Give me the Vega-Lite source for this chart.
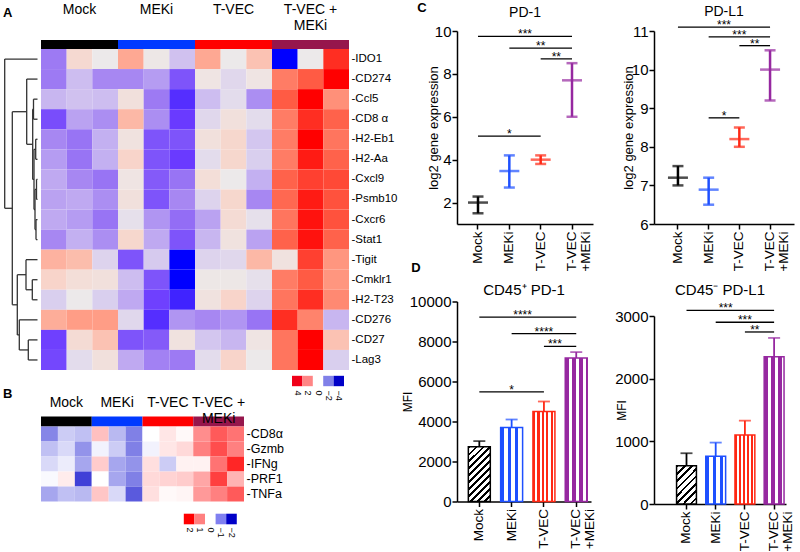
{
"$schema": "https://vega.github.io/schema/vega-lite/v6.json",
"background": "white",
"padding": {"left": 3, "top": 2, "right": 0, "bottom": 0},
"config": {
  "view": {"stroke": null},
  "font": "Liberation Sans",
  "axis": {"labelFont": "Liberation Sans", "titleFont": "Liberation Sans", "labelColor": "#000", "titleColor": "#000", "domainColor": "#000", "tickColor": "#000", "titleFontWeight": "normal", "grid": false, "labelOverlap": false, "labelFlush": false},
  "title": {"font": "Liberation Sans", "color": "#000", "fontWeight": "normal"},
  "text": {"font": "Liberation Sans", "color": "#000"}
},
"datasets": {
  "groups": [{"g":"Mock"},{"g":"MEKi"},{"g":"T-VEC"},{"g":"T-VEC + MEKi"}],
  "heatA": [
    {"gene":"IDO1","M1":-2,"M2":0.7,"M3":0,"K1":1.8,"K2":0.1,"K3":-0.9,"T1":1.8,"T2":0,"T3":1.3,"X1":-4.2,"X2":0,"X3":3.5},
    {"gene":"CD274","M1":-2,"M2":-1,"M3":-1.8,"K1":-1.8,"K2":-1.5,"K3":-2.6,"T1":0.2,"T2":-0.4,"T3":0.2,"X1":2.5,"X2":3,"X3":4},
    {"gene":"Ccl5","M1":-1.1,"M2":-0.9,"M3":-1,"K1":0.4,"K2":-2,"K3":-3.2,"T1":-1,"T2":-0.3,"T3":-1.7,"X1":3,"X2":4,"X3":2.2},
    {"gene":"CD8 α","M1":-2.7,"M2":-1.4,"M3":-1.7,"K1":1.5,"K2":-1.7,"K3":-3,"T1":-0.4,"T2":0.4,"T3":-0.3,"X1":2.5,"X2":3.5,"X3":2.9},
    {"gene":"H2-Eb1","M1":-1.8,"M2":-2.1,"M3":-1.2,"K1":0.3,"K2":-2.6,"K3":-2.6,"T1":0.4,"T2":0.8,"T3":-0.8,"X1":2.5,"X2":4,"X3":2.6},
    {"gene":"H2-Aa","M1":-1.5,"M2":-2.1,"M3":-1.2,"K1":0.9,"K2":-2.6,"K3":-3,"T1":-0.3,"T2":0.8,"T3":-0.6,"X1":2.5,"X2":3.7,"X3":2.9},
    {"gene":"Cxcl9","M1":-1.3,"M2":-1.8,"M3":-2.1,"K1":0.2,"K2":-2.5,"K3":-2.1,"T1":0.5,"T2":0,"T3":-1.2,"X1":2.9,"X2":3.3,"X3":3.2},
    {"gene":"Psmb10","M1":-1.4,"M2":-1.3,"M3":-1.7,"K1":0.4,"K2":-2.6,"K3":-1.8,"T1":-0.5,"T2":0.8,"T3":-1.8,"X1":2.8,"X2":3.7,"X3":3.1},
    {"gene":"Cxcr6","M1":-1.3,"M2":-1.5,"M3":-2.1,"K1":-0.2,"K2":-1.6,"K3":-2.2,"T1":-1.4,"T2":0.6,"T3":-0.2,"X1":2.6,"X2":3.8,"X3":3.1},
    {"gene":"Stat1","M1":-1.8,"M2":-1.2,"M3":-1.7,"K1":0.8,"K2":-1.3,"K3":-2.6,"T1":-1.1,"T2":0.3,"T3":-1.4,"X1":2.9,"X2":3.8,"X3":2.9},
    {"gene":"Tigit","M1":1.6,"M2":1.4,"M3":-0.5,"K1":-2.6,"K2":-0.7,"K3":-4.2,"T1":-0.5,"T2":-0.4,"T3":1.5,"X1":0.3,"X2":3.3,"X3":2.1},
    {"gene":"Cmklr1","M1":0.9,"M2":0.5,"M3":0.4,"K1":-1,"K2":-2.6,"K3":-4.2,"T1":0.1,"T2":0.1,"T3":-0.2,"X1":2.5,"X2":3,"X3":2.1},
    {"gene":"H2-T23","M1":-0.6,"M2":0,"M3":-0.6,"K1":-1.3,"K2":-2.9,"K3":-3.4,"T1":0.3,"T2":0.9,"T3":-0.5,"X1":2.6,"X2":3.5,"X3":2.3},
    {"gene":"CD276","M1":1.7,"M2":2,"M3":2,"K1":-0.4,"K2":-3.2,"K3":-1.6,"T1":-1.8,"T2":-1.6,"T3":-2.1,"X1":3.5,"X2":2.4,"X3":-1.1},
    {"gene":"CD27","M1":-2.9,"M2":0.6,"M3":1.3,"K1":-2.6,"K2":-2.5,"K3":0.3,"T1":-0.8,"T2":-1.1,"T3":0.2,"X1":2.6,"X2":4.2,"X3":1.3},
    {"gene":"Lag3","M1":-2.8,"M2":-0.3,"M3":0.4,"K1":-1.3,"K2":-1.9,"K3":-2,"T1":-0.3,"T2":0.9,"T3":0,"X1":2.6,"X2":4.2,"X3":-0.6}
  ],
  "heatB": [
    {"gene":"CD8α","M1":-0.95,"M2":-0.4,"M3":-0.5,"K1":0.5,"K2":-0.55,"K3":-1,"T1":0,"T2":0.2,"T3":0.05,"X1":0.9,"X2":1.3,"X3":1.1},
    {"gene":"Gzmb","M1":-0.5,"M2":-0.3,"M3":-0.85,"K1":-0.1,"K2":-0.4,"K3":-1,"T1":-0.1,"T2":0.2,"T3":0.3,"X1":1,"X2":1.4,"X3":1},
    {"gene":"IFNg","M1":-0.3,"M2":-0.15,"M3":-0.7,"K1":0.4,"K2":-0.7,"K3":-0.85,"T1":0.25,"T2":-0.4,"T3":0.1,"X1":0.1,"X2":1.1,"X3":1.7},
    {"gene":"PRF1","M1":-0.05,"M2":0.15,"M3":-1.5,"K1":0,"K2":-0.7,"K3":-1,"T1":0.3,"T2":0.35,"T3":0.4,"X1":0.7,"X2":1.5,"X3":0.6},
    {"gene":"TNFa","M1":-0.7,"M2":-0.5,"M3":-0.55,"K1":0.45,"K2":-0.3,"K3":-1.3,"T1":0.25,"T2":0.05,"T3":0.08,"X1":0.8,"X2":1,"X3":1.3}
  ],
  "dendro": [
    {"h1":36.3,"h2":36.3,"r1":0.5,"r2":7.94},{"h1":36.3,"h2":3.5,"r1":0.5,"r2":0.5},{"h1":36.3,"h2":28.7,"r1":7.94,"r2":7.94},
    {"h1":28.7,"h2":28.7,"r1":3.125,"r2":12.75},{"h1":28.7,"h2":14.3,"r1":3.125,"r2":3.125},{"h1":28.7,"h2":23.7,"r1":12.75,"r2":12.75},
    {"h1":14.3,"h2":14.3,"r1":1.5,"r2":4.75},{"h1":14.3,"h2":3.5,"r1":1.5,"r2":1.5},{"h1":14.3,"h2":8.3,"r1":4.75,"r2":4.75},
    {"h1":8.3,"h2":8.3,"r1":3,"r2":6.5},{"h1":8.3,"h2":7.5,"r1":3,"r2":3},{"h1":8.3,"h2":7,"r1":6.5,"r2":6.5},
    {"h1":7.5,"h2":7.5,"r1":2.5,"r2":3.5},{"h1":7.5,"h2":3.5,"r1":2.5,"r2":2.5},{"h1":7.5,"h2":3.5,"r1":3.5,"r2":3.5},
    {"h1":7,"h2":7,"r1":5,"r2":8},{"h1":7,"h2":5.3,"r1":5,"r2":5},{"h1":7,"h2":6,"r1":8,"r2":8},
    {"h1":5.3,"h2":5.3,"r1":4.5,"r2":5.5},{"h1":5.3,"h2":3.5,"r1":4.5,"r2":4.5},{"h1":5.3,"h2":3.5,"r1":5.5,"r2":5.5},
    {"h1":6,"h2":6,"r1":7,"r2":9},{"h1":6,"h2":4.5,"r1":7,"r2":7},{"h1":6,"h2":5,"r1":9,"r2":9},
    {"h1":4.5,"h2":4.5,"r1":6.5,"r2":7.5},{"h1":4.5,"h2":3.5,"r1":6.5,"r2":6.5},{"h1":4.5,"h2":3.5,"r1":7.5,"r2":7.5},
    {"h1":5,"h2":5,"r1":8.5,"r2":9.5},{"h1":5,"h2":3.5,"r1":8.5,"r2":8.5},{"h1":5,"h2":3.5,"r1":9.5,"r2":9.5},
    {"h1":23.7,"h2":23.7,"r1":11.25,"r2":14.25},{"h1":23.7,"h2":15,"r1":11.25,"r2":11.25},{"h1":23.7,"h2":21.7,"r1":14.25,"r2":14.25},
    {"h1":15,"h2":15,"r1":10.5,"r2":12},{"h1":15,"h2":3.5,"r1":10.5,"r2":10.5},{"h1":15,"h2":8.7,"r1":12,"r2":12},
    {"h1":8.7,"h2":8.7,"r1":11.5,"r2":12.5},{"h1":8.7,"h2":3.5,"r1":11.5,"r2":11.5},{"h1":8.7,"h2":3.5,"r1":12.5,"r2":12.5},
    {"h1":21.7,"h2":21.7,"r1":13.5,"r2":15},{"h1":21.7,"h2":3.5,"r1":13.5,"r2":13.5},{"h1":21.7,"h2":12.7,"r1":15,"r2":15},
    {"h1":12.7,"h2":12.7,"r1":14.5,"r2":15.5},{"h1":12.7,"h2":3.5,"r1":14.5,"r2":14.5},{"h1":12.7,"h2":3.5,"r1":15.5,"r2":15.5}
  ],
  "legA": [{"v":4},{"v":2},{"v":-2},{"v":-4}],
  "legB": [{"v":2},{"v":1},{"v":-1},{"v":-2}],
  "pd1": [{"g":"Mock","mean":2.0,"lo":1.5,"hi":2.28},{"g":"MEKi","mean":3.47,"lo":2.7,"hi":4.2},{"g":"T-VEC","mean":4.0,"lo":3.8,"hi":4.2},{"g":"T-VEC + MEKi","mean":7.7,"lo":6.0,"hi":8.5}],
  "pdl1": [{"g":"Mock","mean":7.2,"lo":7.0,"hi":7.5},{"g":"MEKi","mean":6.89,"lo":6.5,"hi":7.2},{"g":"T-VEC","mean":8.2,"lo":8.0,"hi":8.5},{"g":"T-VEC + MEKi","mean":10.0,"lo":9.2,"hi":10.5}],
  "sig_pd1": [{"g1":"Mock","g2":"T-VEC + MEKi","y":9.75,"s":"***","at":"MEKi","p":"e"},{"g1":"MEKi","g2":"T-VEC + MEKi","y":9.2,"s":"**","at":"T-VEC","p":"c"},{"g1":"T-VEC","g2":"T-VEC + MEKi","y":8.7,"s":"**","at":"T-VEC","p":"e"},{"g1":"Mock","g2":"T-VEC","y":5.1,"s":"*","at":"MEKi","p":"c"}],
  "sig_pdl1": [{"g1":"Mock","g2":"T-VEC + MEKi","y":11.1,"s":"***","at":"MEKi","p":"e"},{"g1":"MEKi","g2":"T-VEC + MEKi","y":10.85,"s":"***","at":"T-VEC","p":"c"},{"g1":"T-VEC","g2":"T-VEC + MEKi","y":10.62,"s":"**","at":"T-VEC","p":"e"},{"g1":"MEKi","g2":"T-VEC","y":8.75,"s":"*","at":"MEKi","p":"e"}],
  "cd45p": [{"g":"Mock","mean":2740,"hi":3020},{"g":"MEKi","mean":3700,"hi":4100},{"g":"T-VEC","mean":4500,"hi":5000},{"g":"T-VEC + MEKi","mean":7170,"hi":7470}],
  "sig_cd45p": [{"g1":"Mock","g2":"T-VEC + MEKi","y":9220,"s":"****","at":"MEKi","p":"e"},{"g1":"MEKi","g2":"T-VEC + MEKi","y":8390,"s":"****","at":"T-VEC","p":"c"},{"g1":"T-VEC","g2":"T-VEC + MEKi","y":7760,"s":"***","at":"T-VEC","p":"e"},{"g1":"Mock","g2":"T-VEC","y":5480,"s":"*","at":"MEKi","p":"c"}],
  "cd45n": [{"g":"Mock","mean":610,"hi":810},{"g":"MEKi","mean":760,"hi":980},{"g":"T-VEC","mean":1100,"hi":1330},{"g":"T-VEC + MEKi","mean":2350,"hi":2650}],
  "sig_cd45n": [{"g1":"Mock","g2":"T-VEC + MEKi","y":3090,"s":"***","at":"MEKi","p":"e"},{"g1":"MEKi","g2":"T-VEC + MEKi","y":2900,"s":"***","at":"T-VEC","p":"c"},{"g1":"T-VEC","g2":"T-VEC + MEKi","y":2745,"s":"**","at":"T-VEC","p":"e"}]
},
"spacing": 3,
"hconcat": [
 {"vconcat": [
  {"concat": [
    {"width": 38, "height": 18, "data": {"values": []}, "mark": "rect",
     "title": {"text": "A", "anchor": "start", "offset": 11, "fontSize": 13, "fontWeight": "bold"}},
    {"width": 308, "height": 18, "data": {"name": "groups"}, "mark": "rect",
     "encoding": {
       "x": {"field": "g", "type": "nominal", "scale": {"type": "band", "domain": ["Mock","MEKi","T-VEC","T-VEC + MEKi"], "paddingInner": 0, "paddingOuter": 0},
             "axis": {"orient": "top", "title": null, "domain": false, "ticks": false, "tickSize": 0, "labelAngle": 0, "labelFontSize": 14, "labelLineHeight": 16, "labelBaseline": "top", "labelPadding": 29, "labelAlign": "center", "labelOverlap": false, "labelExpr": "datum.value == 'T-VEC + MEKi' ? ['T-VEC +', 'MEKi'] : datum.value"}},
       "y": {"datum": "bar", "type": "nominal", "scale": {"type": "band", "paddingInner": 0, "paddingOuter": 0.5, "align": 1}, "axis": null},
       "color": {"field": "g", "type": "nominal", "scale": {"domain": ["Mock","MEKi","T-VEC","T-VEC + MEKi"], "range": ["#000000","#0039ff","#ff0000","#96164c"]}, "legend": null}
     }},
    {"width": 38, "height": 321, "data": {"name": "dendro"}, "mark": {"type": "rule", "strokeWidth": 1.3, "color": "#333"},
     "encoding": {
       "x": {"field": "h1", "type": "quantitative", "scale": {"domain": [0, 38], "reverse": true, "nice": false, "zero": false}, "axis": null},
       "x2": {"field": "h2"},
       "y": {"field": "r1", "type": "quantitative", "scale": {"domain": [0, 16], "reverse": true, "nice": false, "zero": false}, "axis": null},
       "y2": {"field": "r2"}
     }},
    {"width": 308, "height": 321, "data": {"name": "heatA"},
     "transform": [{"fold": ["M1","M2","M3","K1","K2","K3","T1","T2","T3","X1","X2","X3"], "as": ["sample", "z"]}],
     "mark": "rect",
     "encoding": {
       "x": {"field": "sample", "type": "nominal", "sort": ["M1","M2","M3","K1","K2","K3","T1","T2","T3","X1","X2","X3"], "scale": {"paddingInner": 0, "paddingOuter": 0}, "axis": null},
       "y": {"field": "gene", "type": "nominal", "sort": ["IDO1","CD274","Ccl5","CD8 α","H2-Eb1","H2-Aa","Cxcl9","Psmb10","Cxcr6","Stat1","Tigit","Cmklr1","H2-T23","CD276","CD27","Lag3"], "scale": {"paddingInner": 0, "paddingOuter": 0},
             "axis": {"orient": "right", "title": null, "domain": false, "ticks": false, "labelPadding": 2, "labelFontSize": 11.5, "labelExpr": "'-' + datum.value"}},
       "color": {"field": "z", "type": "quantitative", "scale": {"domain": [-4,-3,-2,-1,0,1,2,3,4], "range": ["#0000ff","#6a3aff","#9d7af3","#cdbdf0","#ece9ea","#f9d2c6","#ff9d86","#ff5b44","#ff0000"], "interpolate": "rgb", "clamp": true}, "legend": null}
     }},
    {"width": 38, "height": 22, "data": {"values": []}, "mark": "rect"},
    {"width": 308, "height": 22, "data": {"name": "legA"}, "mark": {"type": "square", "size": 108, "opacity": 1, "filled": true},
     "encoding": {
       "x": {"field": "v", "type": "quantitative", "scale": {"domain": [-5.96, 53.27], "reverse": true, "nice": false, "zero": false},
             "axis": {"orient": "bottom", "title": null, "domain": false, "ticks": false, "values": [4,2,0,-2,-4], "tickCount": 20, "format": "d", "labelAngle": 90, "labelFontSize": 9, "labelPadding": -2, "labelFlush": false, "labelOverlap": false}},
       "color": {"field": "v", "type": "nominal", "scale": {"domain": [4,2,-2,-4], "range": ["#f00018","#ff8585","#8080e8","#0000c8"]}, "legend": null}
     }}
  ], "columns": 2, "spacing": 0, "align": "each"},
  {"concat": [
    {"width": 38, "height": 10, "data": {"values": []}, "mark": "rect",
     "title": {"text": "B", "anchor": "start", "offset": 16, "fontSize": 13, "fontWeight": "bold"}},
    {"width": 203, "height": 10, "data": {"name": "groups"}, "mark": "rect",
     "encoding": {
       "x": {"field": "g", "type": "nominal", "scale": {"type": "band", "domain": ["Mock","MEKi","T-VEC","T-VEC + MEKi"], "paddingInner": 0, "paddingOuter": 0},
             "axis": {"orient": "top", "title": null, "domain": false, "ticks": false, "tickSize": 0, "labelAngle": 0, "labelFontSize": 14, "labelLineHeight": 16, "labelBaseline": "middle", "labelPadding": 14.5, "labelAlign": "center", "labelOverlap": false, "labelExpr": "datum.value == 'T-VEC + MEKi' ? ['T-VEC +', 'MEKi'] : datum.value"}},
       "color": {"field": "g", "type": "nominal", "scale": {"domain": ["Mock","MEKi","T-VEC","T-VEC + MEKi"], "range": ["#000000","#0039ff","#ff0000","#96164c"]}, "legend": null}
     }},
    {"width": 38, "height": 75, "data": {"values": []}, "mark": "rect"},
    {"width": 203, "height": 75, "data": {"name": "heatB"},
     "transform": [{"fold": ["M1","M2","M3","K1","K2","K3","T1","T2","T3","X1","X2","X3"], "as": ["sample", "z"]}],
     "mark": "rect",
     "encoding": {
       "x": {"field": "sample", "type": "nominal", "sort": ["M1","M2","M3","K1","K2","K3","T1","T2","T3","X1","X2","X3"], "scale": {"paddingInner": 0, "paddingOuter": 0}, "axis": null},
       "y": {"field": "gene", "type": "nominal", "sort": ["CD8α","Gzmb","IFNg","PRF1","TNFa"], "scale": {"paddingInner": 0, "paddingOuter": 0},
             "axis": {"orient": "right", "title": null, "domain": false, "ticks": false, "labelPadding": 2, "labelFontSize": 12.5, "labelExpr": "'-' + datum.value"}},
       "color": {"field": "z", "type": "quantitative", "scale": {"domain": [-2,-1,0,1,2], "range": ["#0000c8","#8080e6","#ffffff","#ff8080","#ff0000"], "interpolate": "rgb", "clamp": true}, "legend": null}
     }},
    {"width": 38, "height": 35, "data": {"values": []}, "mark": "rect"},
    {"width": 203, "height": 35, "data": {"name": "legB"}, "mark": {"type": "square", "size": 112, "opacity": 1, "filled": true},
     "encoding": {
       "x": {"field": "v", "type": "quantitative", "scale": {"domain": [-3.18, 15.97], "reverse": true, "nice": false, "zero": false},
             "axis": {"orient": "bottom", "title": null, "domain": false, "ticks": false, "values": [2,1,0,-1,-2], "tickCount": 20, "format": "d", "labelAngle": 90, "labelFontSize": 9, "labelPadding": -9.5, "labelFlush": false, "labelOverlap": false}},
       "color": {"field": "v", "type": "nominal", "scale": {"domain": [2,1,-1,-2], "range": ["#ff0000","#ff8080","#8080f0","#0000c8"]}, "legend": null}
     }}
  ], "columns": 2, "spacing": 0, "align": "each"}
 ], "spacing": -13.5},
 {"hconcat": [
  {"vconcat": [
   {"vconcat": [
    {"width": 136, "height": 193,
     "title": {"text": "PD-1", "frame": "group", "anchor": "middle", "fontSize": 14, "offset": 4},
     "data": {"name": "pd1"},
     "layer": [
      {"mark": {"type": "rule", "strokeWidth": 2.5},
       "encoding": {
         "x": {"field": "g", "type": "nominal", "scale": {"type": "band", "domain": ["Mock","MEKi","T-VEC","T-VEC + MEKi"], "paddingInner": 0, "paddingOuter": 0.17},
               "axis": {"orient": "bottom", "title": null, "labelAngle": 270, "labelFontSize": 13.5, "labelLineHeight": 14, "labelExpr": "datum.value == 'T-VEC + MEKi' ? ['T-VEC', '+MEKi'] : datum.value", "tickSize": 5, "tickWidth": 1.5, "domainWidth": 1.5, "labelPadding": 2, "labelOverlap": false}},
         "y": {"field": "lo", "type": "quantitative", "scale": {"domain": [1, 10], "nice": false, "zero": false},
               "axis": {"title": "log2 gene expression", "titleFontSize": 13, "titlePadding": -6, "values": [2,4,6,8,10], "tickCount": 20, "format": "d", "labelFontSize": 15, "tickSize": 5, "tickWidth": 1.5, "domainWidth": 1.5, "labelPadding": 1, "labelOverlap": false, "labelFlush": false}},
         "y2": {"field": "hi"},
         "color": {"field": "g", "type": "nominal", "scale": {"domain": ["Mock","MEKi","T-VEC","T-VEC + MEKi"], "range": ["#000000","#1e50ff","#ff2814","#9628a0"]}, "legend": null}
       }},
      {"mark": {"type": "tick", "size": 20, "thickness": 2.5},
       "encoding": {"x": {"field": "g", "type": "nominal"}, "y": {"field": "mean", "type": "quantitative"}, "color": {"field": "g", "type": "nominal", "legend": null}}},
      {"mark": {"type": "tick", "size": 11, "thickness": 2.5},
       "encoding": {"x": {"field": "g", "type": "nominal"}, "y": {"field": "lo", "type": "quantitative"}, "color": {"field": "g", "type": "nominal", "legend": null}}},
      {"mark": {"type": "tick", "size": 11, "thickness": 2.5},
       "encoding": {"x": {"field": "g", "type": "nominal"}, "y": {"field": "hi", "type": "quantitative"}, "color": {"field": "g", "type": "nominal", "legend": null}}},
      {"data": {"name": "sig_pd1"}, "mark": {"type": "rule", "strokeWidth": 1.3, "color": "#000"},
       "encoding": {"x": {"field": "g1", "type": "nominal"}, "x2": {"field": "g2"}, "y": {"field": "y", "type": "quantitative"}}},
      {"data": {"name": "sig_pd1"}, "transform": [{"filter": "datum.p == 'c'"}], "mark": {"type": "text", "fontSize": 12, "baseline": "alphabetic", "dy": 2},
       "encoding": {"x": {"field": "at", "type": "nominal"}, "y": {"field": "y", "type": "quantitative"}, "text": {"field": "s"}}},
      {"data": {"name": "sig_pd1"}, "transform": [{"filter": "datum.p == 'e'"}], "mark": {"type": "text", "fontSize": 12, "baseline": "alphabetic", "dy": 2},
       "encoding": {"x": {"field": "at", "type": "nominal", "bandPosition": 1}, "y": {"field": "y", "type": "quantitative"}, "text": {"field": "s"}}}
     ]}
   ], "bounds": "flush", "title": {"text": "C", "anchor": "start", "frame": "bounds", "dx": -10, "offset": -9, "fontSize": 13, "fontWeight": "bold"}},
   {"vconcat": [
    {"width": 134, "height": 200,
     "title": {"text": "CD45⁺ PD-1", "frame": "group", "anchor": "middle", "fontSize": 15, "offset": -3.5},
     "data": {"name": "cd45p"},
     "layer": [
      {"transform": [{"filter": "datum.g == 'Mock'"}],
       "mark": {"type": "bar", "stroke": "#000", "strokeWidth": 1.5, "fill": {"gradient": "linear", "x1": 0, "y1": 0, "x2": 0.483, "y2": 1.207, "stops": [
         {"offset":0,"color":"#000"},{"offset":0.0318,"color":"#000"},{"offset":0.0318,"color":"#fff"},{"offset":0.0909,"color":"#fff"},
         {"offset":0.0909,"color":"#000"},{"offset":0.1227,"color":"#000"},{"offset":0.1227,"color":"#fff"},{"offset":0.1818,"color":"#fff"},
         {"offset":0.1818,"color":"#000"},{"offset":0.2136,"color":"#000"},{"offset":0.2136,"color":"#fff"},{"offset":0.2727,"color":"#fff"},
         {"offset":0.2727,"color":"#000"},{"offset":0.3045,"color":"#000"},{"offset":0.3045,"color":"#fff"},{"offset":0.3636,"color":"#fff"},
         {"offset":0.3636,"color":"#000"},{"offset":0.3954,"color":"#000"},{"offset":0.3954,"color":"#fff"},{"offset":0.4545,"color":"#fff"},
         {"offset":0.4545,"color":"#000"},{"offset":0.4863,"color":"#000"},{"offset":0.4863,"color":"#fff"},{"offset":0.5455,"color":"#fff"},
         {"offset":0.5455,"color":"#000"},{"offset":0.5773,"color":"#000"},{"offset":0.5773,"color":"#fff"},{"offset":0.6364,"color":"#fff"},
         {"offset":0.6364,"color":"#000"},{"offset":0.6682,"color":"#000"},{"offset":0.6682,"color":"#fff"},{"offset":0.7273,"color":"#fff"},
         {"offset":0.7273,"color":"#000"},{"offset":0.7591,"color":"#000"},{"offset":0.7591,"color":"#fff"},{"offset":0.8182,"color":"#fff"},
         {"offset":0.8182,"color":"#000"},{"offset":0.85,"color":"#000"},{"offset":0.85,"color":"#fff"},{"offset":0.9091,"color":"#fff"},
         {"offset":0.9091,"color":"#000"},{"offset":0.9409,"color":"#000"},{"offset":0.9409,"color":"#fff"},{"offset":1,"color":"#fff"}]}},
       "encoding": {
         "x": {"field": "g", "type": "nominal", "scale": {"type": "band", "domain": ["Mock","MEKi","T-VEC","T-VEC + MEKi"], "paddingInner": 0.32, "paddingOuter": 0.234, "align": 0.75},
               "axis": {"orient": "bottom", "title": null, "labelAngle": 270, "labelFontSize": 13.5, "labelLineHeight": 14, "labelExpr": "datum.value == 'T-VEC + MEKi' ? ['T-VEC', '+MEKi'] : datum.value", "tickSize": 5, "tickWidth": 1.5, "domainWidth": 1.5, "labelPadding": 2, "labelOverlap": false}},
         "y": {"field": "mean", "type": "quantitative", "scale": {"domain": [0, 10000], "nice": false},
               "axis": {"title": "MFI", "titleFontSize": 12, "titlePadding": -5, "values": [0,2000,4000,6000,8000,10000], "tickCount": 20, "format": "d", "labelFontSize": 15, "tickSize": 5, "tickWidth": 1.5, "domainWidth": 1.5, "labelPadding": 1, "labelOverlap": false, "labelFlush": false}}
       }},
      {"transform": [{"filter": "datum.g == 'MEKi'"}],
       "mark": {"type": "bar", "stroke": "#1e50ff", "strokeWidth": 1.5, "fill": {"gradient": "linear", "x1": 0, "y1": 0, "x2": 1, "y2": 0, "stops": [
         {"offset":0,"color":"#1e50ff"},{"offset":0.159,"color":"#1e50ff"},{"offset":0.159,"color":"#fff"},{"offset":0.318,"color":"#fff"},{"offset":0.318,"color":"#1e50ff"},{"offset":0.477,"color":"#1e50ff"},{"offset":0.477,"color":"#fff"},{"offset":0.636,"color":"#fff"},{"offset":0.636,"color":"#1e50ff"},{"offset":0.795,"color":"#1e50ff"},{"offset":0.795,"color":"#fff"},{"offset":0.954,"color":"#fff"},{"offset":0.954,"color":"#1e50ff"},{"offset":1,"color":"#1e50ff"}]}},
       "encoding": {"x": {"field": "g", "type": "nominal"}, "y": {"field": "mean", "type": "quantitative"}}},
      {"transform": [{"filter": "datum.g == 'T-VEC'"}],
       "mark": {"type": "bar", "stroke": "#ff2814", "strokeWidth": 1.5, "fill": {"gradient": "linear", "x1": 0, "y1": 0, "x2": 1, "y2": 0, "stops": [
         {"offset":0,"color":"#ff2814"},{"offset":0.1,"color":"#ff2814"},{"offset":0.1,"color":"#fff"},{"offset":0.2,"color":"#fff"},{"offset":0.2,"color":"#ff2814"},{"offset":0.3,"color":"#ff2814"},{"offset":0.3,"color":"#fff"},{"offset":0.4,"color":"#fff"},{"offset":0.4,"color":"#ff2814"},{"offset":0.5,"color":"#ff2814"},{"offset":0.5,"color":"#fff"},{"offset":0.6,"color":"#fff"},{"offset":0.6,"color":"#ff2814"},{"offset":0.7,"color":"#ff2814"},{"offset":0.7,"color":"#fff"},{"offset":0.8,"color":"#fff"},{"offset":0.8,"color":"#ff2814"},{"offset":0.9,"color":"#ff2814"},{"offset":0.9,"color":"#fff"},{"offset":1,"color":"#fff"}]}},
       "encoding": {"x": {"field": "g", "type": "nominal"}, "y": {"field": "mean", "type": "quantitative"}}},
      {"transform": [{"filter": "datum.g == 'T-VEC + MEKi'"}],
       "mark": {"type": "bar", "stroke": "#9628a0", "strokeWidth": 1.5, "fill": {"gradient": "linear", "x1": 0, "y1": 0, "x2": 1, "y2": 0, "stops": [
         {"offset":0,"color":"#9628a0"},{"offset":0.159,"color":"#9628a0"},{"offset":0.159,"color":"#fff"},{"offset":0.318,"color":"#fff"},{"offset":0.318,"color":"#9628a0"},{"offset":0.477,"color":"#9628a0"},{"offset":0.477,"color":"#fff"},{"offset":0.636,"color":"#fff"},{"offset":0.636,"color":"#9628a0"},{"offset":0.795,"color":"#9628a0"},{"offset":0.795,"color":"#fff"},{"offset":0.954,"color":"#fff"},{"offset":0.954,"color":"#9628a0"},{"offset":1,"color":"#9628a0"}]}},
       "encoding": {"x": {"field": "g", "type": "nominal"}, "y": {"field": "mean", "type": "quantitative"}}},
      {"mark": {"type": "rule", "strokeWidth": 1.8},
       "encoding": {"x": {"field": "g", "type": "nominal"}, "y": {"field": "mean", "type": "quantitative"}, "y2": {"field": "hi"},
                    "color": {"field": "g", "type": "nominal", "scale": {"domain": ["Mock","MEKi","T-VEC","T-VEC + MEKi"], "range": ["#000000","#1e50ff","#ff2814","#9628a0"]}, "legend": null}}},
      {"mark": {"type": "tick", "size": 12, "thickness": 1.8},
       "encoding": {"x": {"field": "g", "type": "nominal"}, "y": {"field": "hi", "type": "quantitative"}, "color": {"field": "g", "type": "nominal", "legend": null}}},
      {"data": {"name": "sig_cd45p"}, "mark": {"type": "rule", "strokeWidth": 1.3, "color": "#000"},
       "encoding": {"x": {"field": "g1", "type": "nominal"}, "x2": {"field": "g2"}, "y": {"field": "y", "type": "quantitative"}}},
      {"data": {"name": "sig_cd45p"}, "transform": [{"filter": "datum.p == 'c'"}], "mark": {"type": "text", "fontSize": 12, "baseline": "alphabetic", "dy": 2},
       "encoding": {"x": {"field": "at", "type": "nominal"}, "y": {"field": "y", "type": "quantitative"}, "text": {"field": "s"}}},
      {"data": {"name": "sig_cd45p"}, "transform": [{"filter": "datum.p == 'e'"}], "mark": {"type": "text", "fontSize": 12, "baseline": "alphabetic", "dy": 2},
       "encoding": {"x": {"field": "at", "type": "nominal", "bandPosition": 1}, "y": {"field": "y", "type": "quantitative"}, "text": {"field": "s"}}}
     ]}
   ], "bounds": "flush", "title": {"text": "D", "anchor": "start", "frame": "bounds", "dx": 10, "offset": 8, "fontSize": 13, "fontWeight": "bold"}}
  ], "spacing": -10.5},
  {"concat": [
   {"width": 140, "height": 193,
    "title": {"text": "PD-L1", "frame": "group", "anchor": "middle", "fontSize": 14, "offset": 0},
    "data": {"name": "pdl1"},
    "layer": [
     {"mark": {"type": "rule", "strokeWidth": 2.5},
      "encoding": {
        "x": {"field": "g", "type": "nominal", "scale": {"type": "band", "domain": ["Mock","MEKi","T-VEC","T-VEC + MEKi"], "paddingInner": 0, "paddingOuter": 0.28},
              "axis": {"orient": "bottom", "title": null, "labelAngle": 270, "labelFontSize": 13.5, "labelLineHeight": 14, "labelExpr": "datum.value == 'T-VEC + MEKi' ? ['T-VEC', '+MEKi'] : datum.value", "tickSize": 5, "tickWidth": 1.5, "domainWidth": 1.5, "labelPadding": 2, "labelOverlap": false}},
        "y": {"field": "lo", "type": "quantitative", "scale": {"domain": [6, 11], "nice": false, "zero": false},
              "axis": {"title": "log2 gene expression", "titleFontSize": 13, "titlePadding": -4, "values": [6,7,8,9,10,11], "tickCount": 20, "format": "d", "labelFontSize": 15, "tickSize": 5, "tickWidth": 1.5, "domainWidth": 1.5, "labelPadding": 1, "labelOverlap": false, "labelFlush": false}},
        "y2": {"field": "hi"},
        "color": {"field": "g", "type": "nominal", "scale": {"domain": ["Mock","MEKi","T-VEC","T-VEC + MEKi"], "range": ["#000000","#1e50ff","#ff2814","#9628a0"]}, "legend": null}
      }},
     {"mark": {"type": "tick", "size": 20, "thickness": 2.5},
      "encoding": {"x": {"field": "g", "type": "nominal"}, "y": {"field": "mean", "type": "quantitative"}, "color": {"field": "g", "type": "nominal", "legend": null}}},
     {"mark": {"type": "tick", "size": 11, "thickness": 2.5},
      "encoding": {"x": {"field": "g", "type": "nominal"}, "y": {"field": "lo", "type": "quantitative"}, "color": {"field": "g", "type": "nominal", "legend": null}}},
     {"mark": {"type": "tick", "size": 11, "thickness": 2.5},
      "encoding": {"x": {"field": "g", "type": "nominal"}, "y": {"field": "hi", "type": "quantitative"}, "color": {"field": "g", "type": "nominal", "legend": null}}},
     {"data": {"name": "sig_pdl1"}, "mark": {"type": "rule", "strokeWidth": 1.3, "color": "#000"},
      "encoding": {"x": {"field": "g1", "type": "nominal"}, "x2": {"field": "g2"}, "y": {"field": "y", "type": "quantitative"}}},
     {"data": {"name": "sig_pdl1"}, "transform": [{"filter": "datum.p == 'c'"}], "mark": {"type": "text", "fontSize": 12, "baseline": "alphabetic", "dy": 2},
      "encoding": {"x": {"field": "at", "type": "nominal"}, "y": {"field": "y", "type": "quantitative"}, "text": {"field": "s"}}},
     {"data": {"name": "sig_pdl1"}, "transform": [{"filter": "datum.p == 'e'"}], "mark": {"type": "text", "fontSize": 12, "baseline": "alphabetic", "dy": 2},
      "encoding": {"x": {"field": "at", "type": "nominal", "bandPosition": 1}, "y": {"field": "y", "type": "quantitative"}, "text": {"field": "s"}}}
    ]},
   {"width": 132, "height": 188,
    "title": {"text": "CD45⁻ PD-L1", "frame": "group", "anchor": "middle", "fontSize": 15, "offset": 4},
    "data": {"name": "cd45n"},
    "layer": [
     {"transform": [{"filter": "datum.g == 'Mock'"}],
      "mark": {"type": "bar", "stroke": "#000", "strokeWidth": 1.5, "fill": {"gradient": "linear", "x1": 0, "y1": 0, "x2": 0.629, "y2": 1.195, "stops": [
        {"offset":0,"color":"#000"},{"offset":0.044,"color":"#000"},{"offset":0.044,"color":"#fff"},{"offset":0.125,"color":"#fff"},
        {"offset":0.125,"color":"#000"},{"offset":0.169,"color":"#000"},{"offset":0.169,"color":"#fff"},{"offset":0.25,"color":"#fff"},
        {"offset":0.25,"color":"#000"},{"offset":0.294,"color":"#000"},{"offset":0.294,"color":"#fff"},{"offset":0.375,"color":"#fff"},
        {"offset":0.375,"color":"#000"},{"offset":0.419,"color":"#000"},{"offset":0.419,"color":"#fff"},{"offset":0.5,"color":"#fff"},
        {"offset":0.5,"color":"#000"},{"offset":0.544,"color":"#000"},{"offset":0.544,"color":"#fff"},{"offset":0.625,"color":"#fff"},
        {"offset":0.625,"color":"#000"},{"offset":0.669,"color":"#000"},{"offset":0.669,"color":"#fff"},{"offset":0.75,"color":"#fff"},
        {"offset":0.75,"color":"#000"},{"offset":0.794,"color":"#000"},{"offset":0.794,"color":"#fff"},{"offset":0.875,"color":"#fff"},
        {"offset":0.875,"color":"#000"},{"offset":0.919,"color":"#000"},{"offset":0.919,"color":"#fff"},{"offset":1,"color":"#fff"}]}},
      "encoding": {
        "x": {"field": "g", "type": "nominal", "scale": {"type": "band", "domain": ["Mock","MEKi","T-VEC","T-VEC + MEKi"], "paddingInner": 0.32, "paddingOuter": 0.42, "align": 0.92},
              "axis": {"orient": "bottom", "title": null, "labelAngle": 270, "labelFontSize": 13.5, "labelLineHeight": 14, "labelExpr": "datum.value == 'T-VEC + MEKi' ? ['T-VEC', '+MEKi'] : datum.value", "tickSize": 5, "tickWidth": 1.5, "domainWidth": 1.5, "labelPadding": 2, "labelOverlap": false}},
        "y": {"field": "mean", "type": "quantitative", "scale": {"domain": [0, 3000], "nice": false},
              "axis": {"title": "MFI", "titleFontSize": 12, "titlePadding": -14, "values": [0,1000,2000,3000], "tickCount": 20, "format": "d", "labelFontSize": 15, "tickSize": 5, "tickWidth": 1.5, "domainWidth": 1.5, "labelPadding": 1, "labelOverlap": false, "labelFlush": false}}
      }},
     {"transform": [{"filter": "datum.g == 'MEKi'"}],
      "mark": {"type": "bar", "stroke": "#1e50ff", "strokeWidth": 1.5, "fill": {"gradient": "linear", "x1": 0, "y1": 0, "x2": 1, "y2": 0, "stops": [
        {"offset":0,"color":"#1e50ff"},{"offset":0.175,"color":"#1e50ff"},{"offset":0.175,"color":"#fff"},{"offset":0.35,"color":"#fff"},{"offset":0.35,"color":"#1e50ff"},{"offset":0.525,"color":"#1e50ff"},{"offset":0.525,"color":"#fff"},{"offset":0.7,"color":"#fff"},{"offset":0.7,"color":"#1e50ff"},{"offset":0.875,"color":"#1e50ff"},{"offset":0.875,"color":"#fff"},{"offset":1,"color":"#fff"}]}},
      "encoding": {"x": {"field": "g", "type": "nominal"}, "y": {"field": "mean", "type": "quantitative"}}},
     {"transform": [{"filter": "datum.g == 'T-VEC'"}],
      "mark": {"type": "bar", "stroke": "#ff2814", "strokeWidth": 1.5, "fill": {"gradient": "linear", "x1": 0, "y1": 0, "x2": 1, "y2": 0, "stops": [
        {"offset":0,"color":"#ff2814"},{"offset":0.1,"color":"#ff2814"},{"offset":0.1,"color":"#fff"},{"offset":0.2,"color":"#fff"},{"offset":0.2,"color":"#ff2814"},{"offset":0.3,"color":"#ff2814"},{"offset":0.3,"color":"#fff"},{"offset":0.4,"color":"#fff"},{"offset":0.4,"color":"#ff2814"},{"offset":0.5,"color":"#ff2814"},{"offset":0.5,"color":"#fff"},{"offset":0.6,"color":"#fff"},{"offset":0.6,"color":"#ff2814"},{"offset":0.7,"color":"#ff2814"},{"offset":0.7,"color":"#fff"},{"offset":0.8,"color":"#fff"},{"offset":0.8,"color":"#ff2814"},{"offset":0.9,"color":"#ff2814"},{"offset":0.9,"color":"#fff"},{"offset":1,"color":"#fff"}]}},
      "encoding": {"x": {"field": "g", "type": "nominal"}, "y": {"field": "mean", "type": "quantitative"}}},
     {"transform": [{"filter": "datum.g == 'T-VEC + MEKi'"}],
      "mark": {"type": "bar", "stroke": "#9628a0", "strokeWidth": 1.5, "fill": {"gradient": "linear", "x1": 0, "y1": 0, "x2": 1, "y2": 0, "stops": [
        {"offset":0,"color":"#9628a0"},{"offset":0.175,"color":"#9628a0"},{"offset":0.175,"color":"#fff"},{"offset":0.35,"color":"#fff"},{"offset":0.35,"color":"#9628a0"},{"offset":0.525,"color":"#9628a0"},{"offset":0.525,"color":"#fff"},{"offset":0.7,"color":"#fff"},{"offset":0.7,"color":"#9628a0"},{"offset":0.875,"color":"#9628a0"},{"offset":0.875,"color":"#fff"},{"offset":1,"color":"#fff"}]}},
      "encoding": {"x": {"field": "g", "type": "nominal"}, "y": {"field": "mean", "type": "quantitative"}}},
     {"mark": {"type": "rule", "strokeWidth": 1.8},
      "encoding": {"x": {"field": "g", "type": "nominal"}, "y": {"field": "mean", "type": "quantitative"}, "y2": {"field": "hi"},
                   "color": {"field": "g", "type": "nominal", "scale": {"domain": ["Mock","MEKi","T-VEC","T-VEC + MEKi"], "range": ["#000000","#1e50ff","#ff2814","#9628a0"]}, "legend": null}}},
     {"mark": {"type": "tick", "size": 12, "thickness": 1.8},
      "encoding": {"x": {"field": "g", "type": "nominal"}, "y": {"field": "hi", "type": "quantitative"}, "color": {"field": "g", "type": "nominal", "legend": null}}},
     {"data": {"name": "sig_cd45n"}, "mark": {"type": "rule", "strokeWidth": 1.3, "color": "#000"},
      "encoding": {"x": {"field": "g1", "type": "nominal"}, "x2": {"field": "g2"}, "y": {"field": "y", "type": "quantitative"}}},
     {"data": {"name": "sig_cd45n"}, "transform": [{"filter": "datum.p == 'c'"}], "mark": {"type": "text", "fontSize": 12, "baseline": "alphabetic", "dy": 2},
      "encoding": {"x": {"field": "at", "type": "nominal"}, "y": {"field": "y", "type": "quantitative"}, "text": {"field": "s"}}},
     {"data": {"name": "sig_cd45n"}, "transform": [{"filter": "datum.p == 'e'"}], "mark": {"type": "text", "fontSize": 12, "baseline": "alphabetic", "dy": 2},
      "encoding": {"x": {"field": "at", "type": "nominal", "bandPosition": 1}, "y": {"field": "y", "type": "quantitative"}, "text": {"field": "s"}}}
    ]}
  ], "columns": 1, "align": "none", "spacing": 11}
 ], "spacing": 17}
]
}
